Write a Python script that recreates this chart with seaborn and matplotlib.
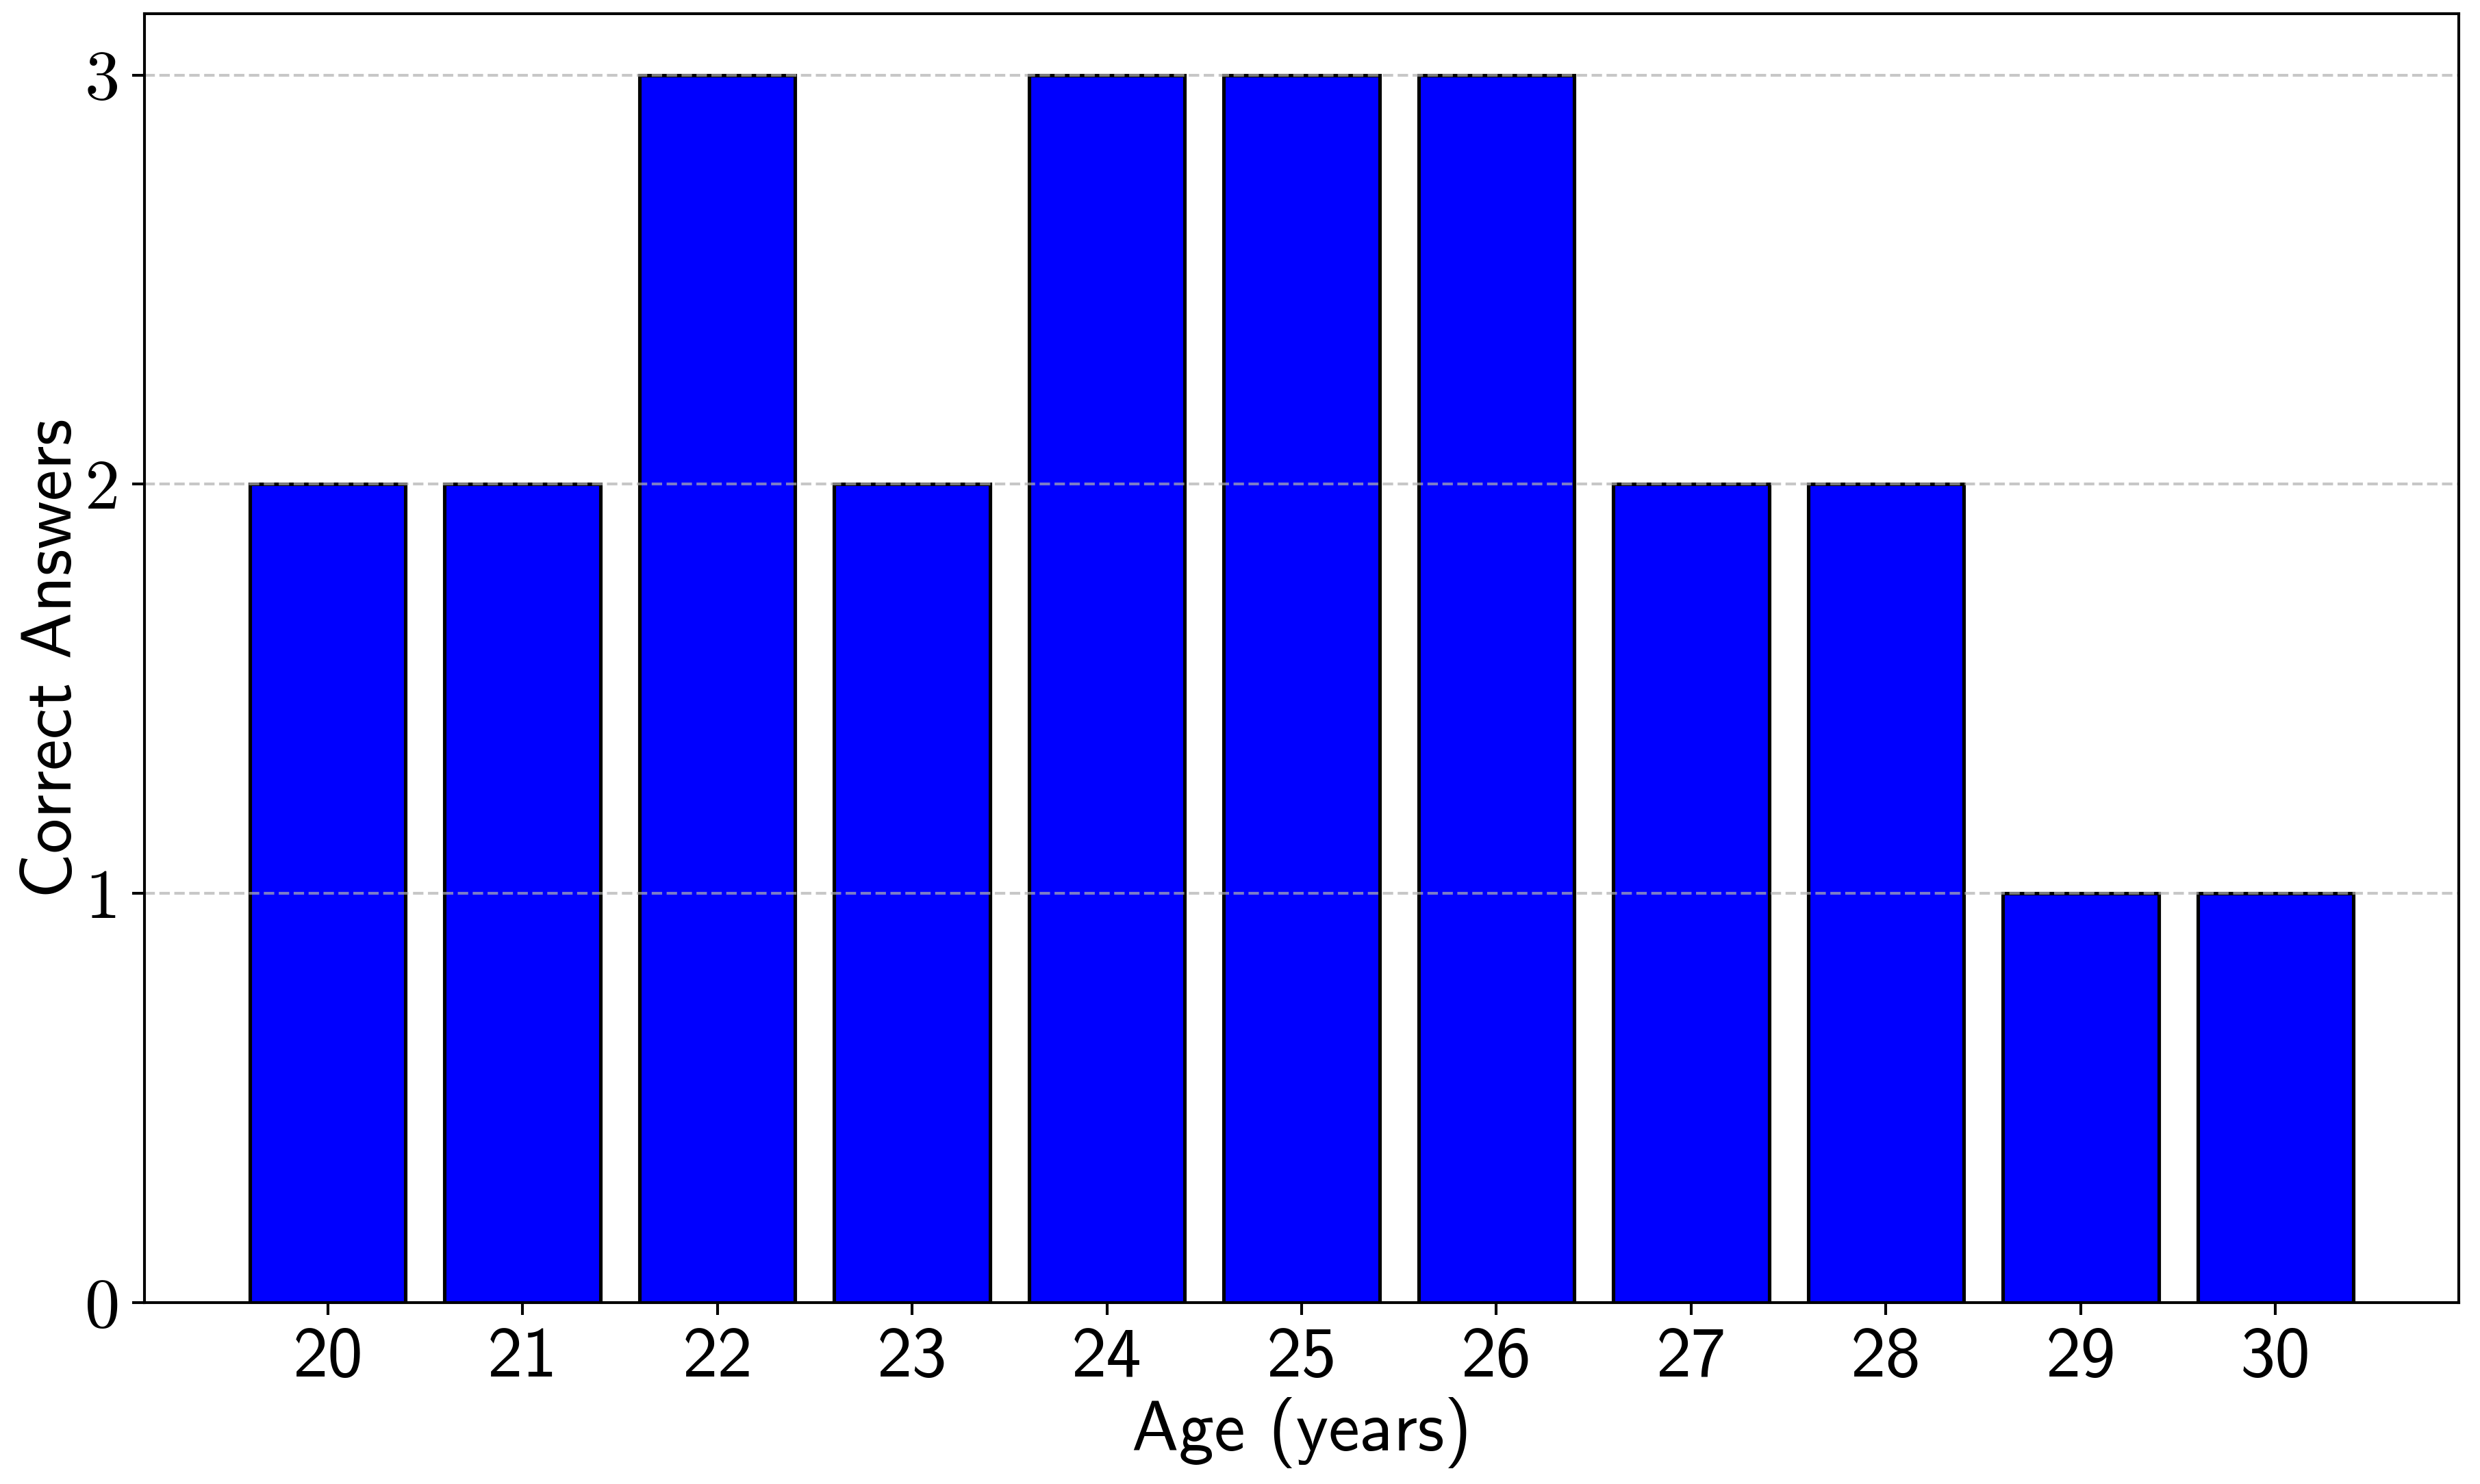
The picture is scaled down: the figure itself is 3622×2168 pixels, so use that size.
import matplotlib
matplotlib.use('Agg')
import matplotlib.pyplot as plt
import seaborn as sns
import numpy as np

ages = [20, 21, 22, 23, 24, 25, 26, 27, 28, 29, 30]
correct = [2, 2, 3, 2, 3, 3, 3, 2, 2, 1, 1]
y_ticks = [0, 1, 2, 3]

plt.rcParams['font.family'] = ['cmss10', 'DejaVu Sans']
plt.rcParams['font.size'] = 20
plt.rcParams['axes.formatter.use_mathtext'] = True

dpi = 370
fig, ax = plt.subplots(figsize=(3622 / dpi, 2168 / dpi), dpi=dpi)
fig.subplots_adjust(left=0.0583, right=0.9914, bottom=0.1222, top=0.9908)

sns.barplot(x=ages, y=correct, color='blue', saturation=1, edgecolor='black',
            linewidth=1.0, width=0.8, ax=ax)

# mimic matplotlib's default margins around the bars
n = len(ages)
pad = 0.05 * (n - 1 + 0.8)
ax.set_xlim(-0.4 - pad, n - 1 + 0.4 + pad)
ax.set_ylim(0, max(correct) * 1.05)

ax.set_yticks(y_ticks, [str(t) for t in y_ticks], fontfamily='cmr10', fontsize=20)
ax.tick_params(axis='x', labelsize=20)
ax.grid(axis='y', linestyle='--', alpha=0.7)
ax.set_axisbelow('line')

ax.set_xlabel('Age (years)', fontsize=20, labelpad=2)
ax.set_ylabel('Correct Answers', fontsize=20, labelpad=0)

fig.savefig('out.png', dpi=dpi)
